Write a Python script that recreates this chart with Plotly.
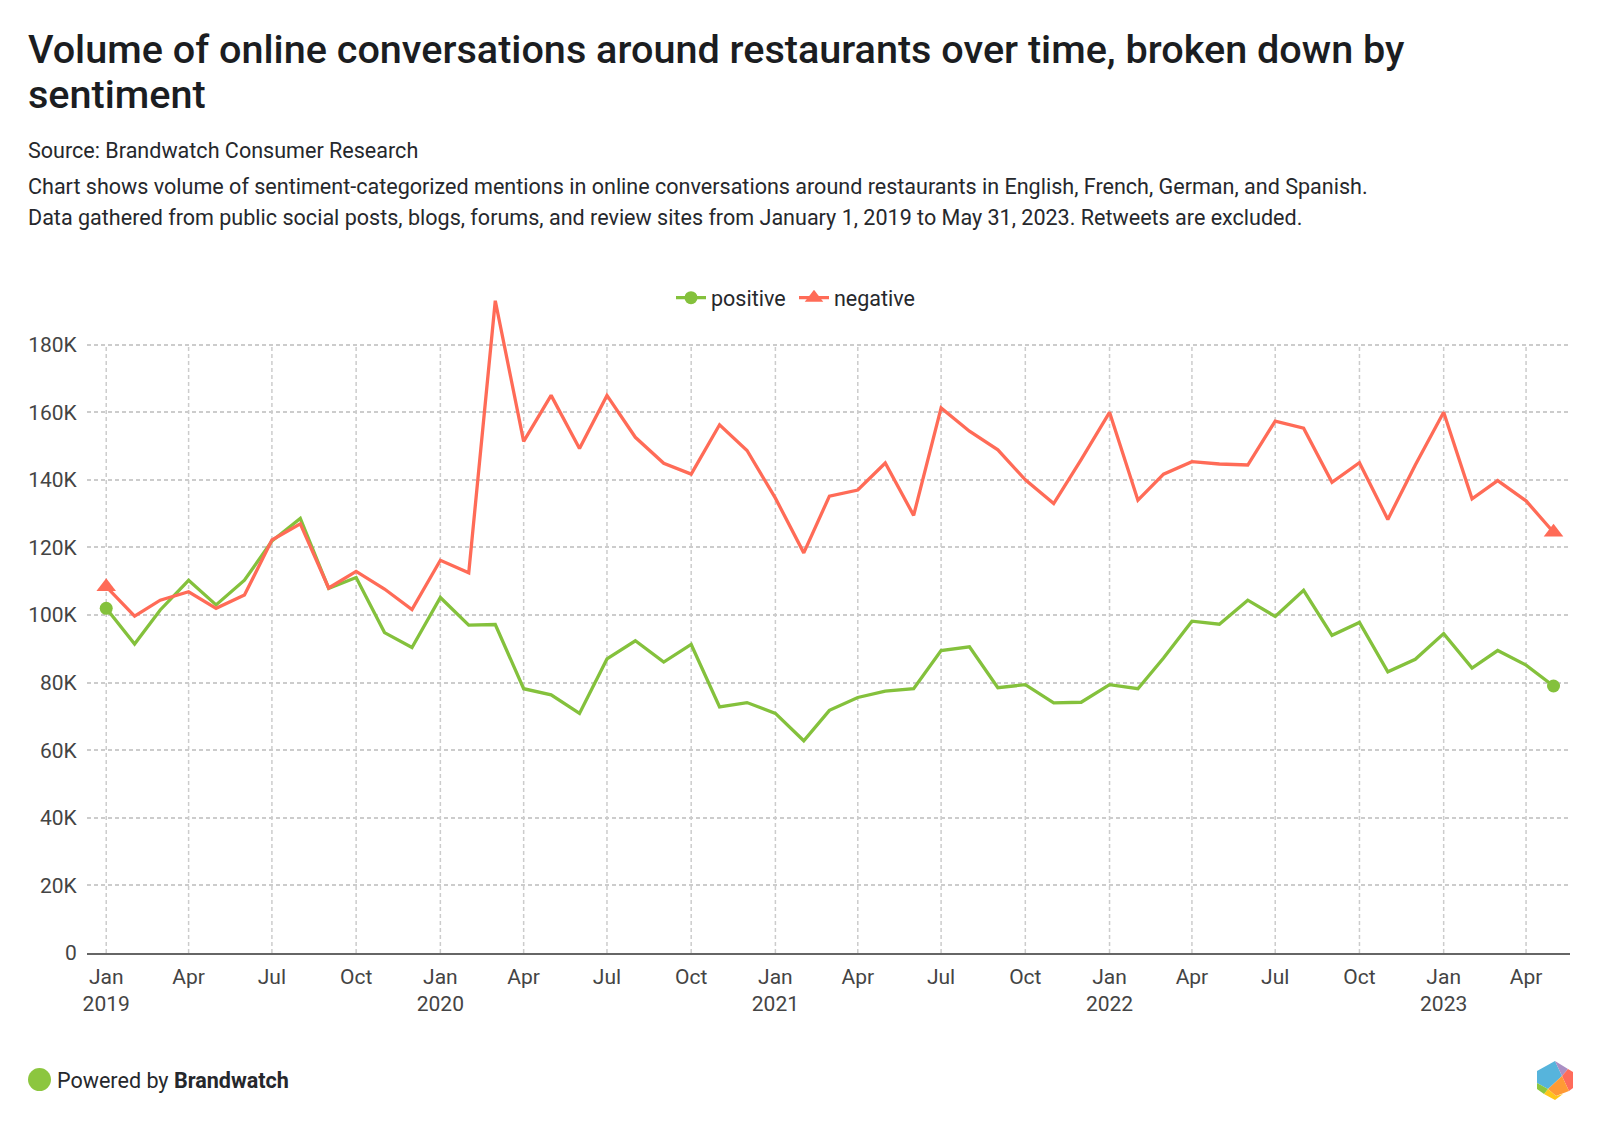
import plotly.graph_objects as go

months = [f"{y}-{m:02d}-01" for y in range(2019, 2024) for m in range(1, 13)][:53]

positive = [102000, 91400, 101500, 110300, 103000, 110300, 121900, 128600, 107900, 111100, 94800, 90400,
            105200, 97000, 97200, 78200, 76400, 70900, 87000, 92400, 86100, 91300, 72800, 74100,
            70900, 62800, 71800, 75600, 77500, 78200, 89500, 90600, 78500, 79400, 74000, 74200,
            79400, 78200, 87300, 98200, 97300, 104400, 99600, 107300, 94000, 97800, 83200, 86900,
            94500, 84300, 89500, 85200, 79000]
negative = [108400, 99700, 104400, 106900, 102000, 105900, 122200, 127000, 108000, 112900, 107700, 101600,
            116200, 112500, 193000, 151400, 165000, 149300, 165000, 152600, 144900, 141700, 156300, 148700,
            134600, 118400, 135200, 137000, 145000, 129500, 161300, 154400, 148900, 140000, 133000, 146000,
            160000, 134000, 141700, 145400, 144700, 144400, 157400, 155300, 139300, 145100, 128300, 144400,
            160000, 134400, 139800, 133800, 124500]

x_ticks = ["2019-01-01", "2019-04-01", "2019-07-01", "2019-10-01",
           "2020-01-01", "2020-04-01", "2020-07-01", "2020-10-01",
           "2021-01-01", "2021-04-01", "2021-07-01", "2021-10-01",
           "2022-01-01", "2022-04-01", "2022-07-01", "2022-10-01",
           "2023-01-01", "2023-04-01"]
x_labels = ["Jan<br>2019", "Apr", "Jul", "Oct",
            "Jan<br>2020", "Apr", "Jul", "Oct",
            "Jan<br>2021", "Apr", "Jul", "Oct",
            "Jan<br>2022", "Apr", "Jul", "Oct",
            "Jan<br>2023", "Apr"]
y_ticks = [0, 20000, 40000, 60000, 80000, 100000, 120000, 140000, 160000, 180000]
y_labels = ["0", "20K", "40K", "60K", "80K", "100K", "120K", "140K", "160K", "180K"]

GREEN = "#84C13C"
RED = "#FF6B57"
GRID = "#CCCCCC"
DASH = "4px,3px"
FONT = "Roboto"

# the page body has an 8px margin, so the figure sits at (8, 8) in the 1600x1133 window
OFF = 8
W, H = 1584, 1117
L, R, T, B = 79, 22, 286.3, 172


# window pixels to paper coordinates, for the text and logo around the plot
def px(x):
    return (x - OFF - L) / (W - L - R)


def py(y):
    return (H - B - (y - OFF)) / (H - T - B)


def ends(values):
    return [v if i in (0, len(values) - 1) else None for i, v in enumerate(values)]


fig = go.Figure()
for name, values, color, symbol, size in [("positive", positive, GREEN, "circle", 13),
                                          ("negative", negative, RED, "triangle-up", 17)]:
    fig.add_trace(go.Scatter(x=months, y=values, mode="lines", name=name, showlegend=False,
                             line=dict(color=color, width=3.3), hoverinfo="x+y"))
    # end markers only, this is also the trace the legend shows
    fig.add_trace(go.Scatter(x=months, y=ends(values), mode="lines+markers", name=name,
                             line=dict(color=color, width=3.3),
                             marker=dict(color=color, size=size, symbol=symbol),
                             cliponaxis=False, hoverinfo="skip"))


def text(x, y, s, size, color="#26282c", weight=400):
    fig.add_annotation(xref="paper", yref="paper", x=px(x), y=py(y), xanchor="left", yanchor="middle",
                       text=s, showarrow=False, align="left", borderpad=0,
                       font=dict(family=FONT, size=size, color=color, weight=weight))


text(26.5, 49.5, "Volume of online conversations around restaurants over time, broken down by", 39.6, "#1b1d21", 500)
text(26.5, 94.5, "sentiment", 39.6, "#1b1d21", 500)
text(26.5, 151, "Source: Brandwatch Consumer Research", 21.55)
text(26.5, 187, "Chart shows volume of sentiment-categorized mentions in online conversations around restaurants "
                "in English, French, German, and Spanish.", 21.55)
text(26.5, 218, "Data gathered from public social posts, blogs, forums, and review sites from January 1, 2019 "
                "to May 31, 2023. Retweets are excluded.", 21.55)
text(56, 1080, "Powered by <b>Brandwatch</b>", 21.55)

# vertical gridlines stop at the 180K gridline, the spike goes above them
shapes = [dict(type="line", xref="x", yref="y", x0=t, x1=t, y0=y_ticks[0], y1=y_ticks[-1], layer="below",
               line=dict(color=GRID, width=1.5, dash=DASH)) for t in x_ticks]

# footer dot and hexagon logo
shapes.append(dict(type="circle", xref="paper", yref="paper", x0=px(28), x1=px(51), y0=py(1091), y1=py(1068),
                   fillcolor="#8CC63F", line_width=0))
logo = [("#56B4DC", [(1555, 1061), (1537, 1071), (1537, 1083), (1548, 1089), (1562, 1076)]),
        ("#AA8FC4", [(1555, 1061), (1568, 1069), (1562, 1076)]),
        ("#FF6B5B", [(1568, 1069), (1573, 1072), (1573, 1088), (1569, 1091), (1562, 1076)]),
        ("#FF9A35", [(1562, 1076), (1569, 1091), (1556, 1096), (1548, 1089)]),
        ("#FFC61A", [(1548, 1089), (1556, 1096), (1563, 1094), (1555, 1100), (1544, 1094)]),
        ("#8CC63F", [(1537, 1083), (1548, 1089), (1544, 1094), (1537, 1089)])]
for color, pts in logo:
    path = "M" + " L".join(f"{px(a):.5f},{py(b):.5f}" for a, b in pts) + " Z"
    shapes.append(dict(type="path", xref="paper", yref="paper", path=path, fillcolor=color, line_width=0))

fig.update_layout(
    width=W, height=H,
    margin=dict(l=L, r=R, t=T, b=B),
    paper_bgcolor="white", plot_bgcolor="white",
    font=dict(family=FONT, color="#444444", size=21),
    legend=dict(orientation="h", x=px(794), xanchor="center", y=py(298), yanchor="middle",
                font=dict(family=FONT, size=21.5, color="#26282c"), traceorder="normal",
                entrywidth=78, entrywidthmode="pixels"),
    xaxis=dict(type="date", range=["2018-12-11", "2023-05-19"], tickmode="array",
               tickvals=x_ticks, ticktext=x_labels, tickangle=0, showgrid=False,
               showline=True, linecolor="#666666", linewidth=1.7,
               ticks="outside", ticklen=4, tickcolor="rgba(0,0,0,0)", zeroline=False),
    yaxis=dict(range=[0, 195000], tickmode="array", tickvals=y_ticks, ticktext=y_labels,
               showgrid=True, gridcolor=GRID, griddash=DASH, gridwidth=1.5,
               ticks="outside", ticklen=5, tickcolor="rgba(0,0,0,0)", zeroline=False),
    shapes=shapes,
)

fig.write_html("out.html")
